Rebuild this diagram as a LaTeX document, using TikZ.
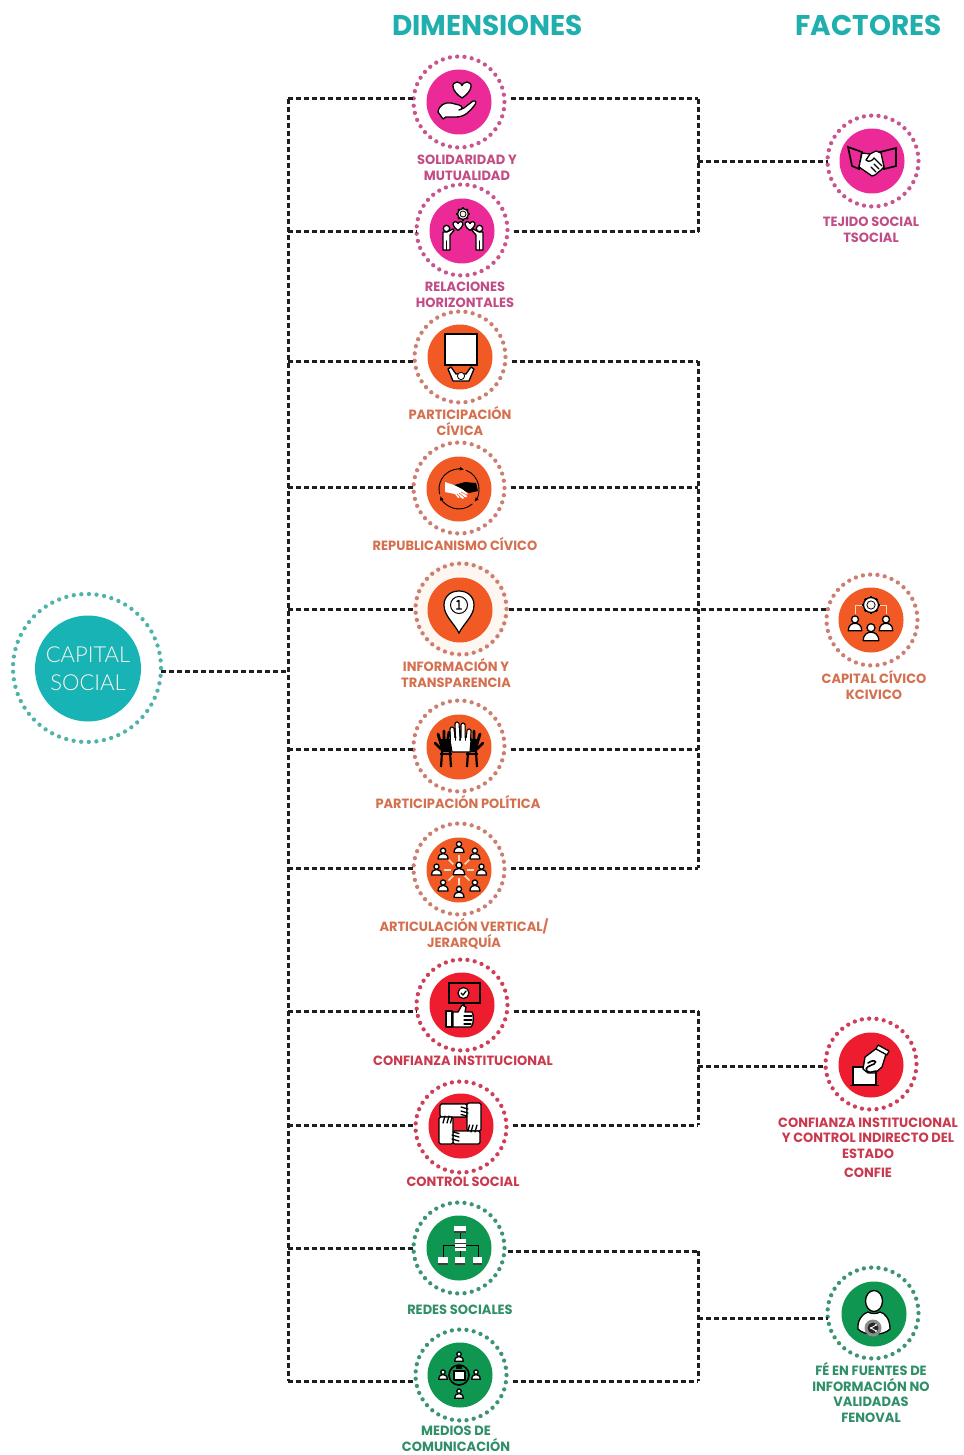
\documentclass[tikz,border=0pt]{standalone}
\usepackage{fontspec}
\usetikzlibrary{arrows.meta}
\setmainfont{Poppins}
\newfontfamily\labfont[FakeStretch=0.97]{Poppins}
\newfontfamily\headfont[FakeStretch=0.98]{Poppins}
\newfontfamily\capfont{Lato Light}
\definecolor{cPink}{HTML}{EC2A97}\definecolor{cOrange}{HTML}{F15A24}
\definecolor{cRed}{HTML}{ED1C2E}\definecolor{cGreen}{HTML}{0F9650}
\definecolor{cTeal}{HTML}{17B3B5}\definecolor{cHead}{HTML}{1FAFAE}
\definecolor{dPink}{HTML}{C9558F}\definecolor{dOrange}{HTML}{CC7F70}
\definecolor{dRed}{HTML}{CE3F5A}\definecolor{dGreen}{HTML}{3C9473}
\definecolor{dTeal}{HTML}{4FB3A9}
\definecolor{tPink}{HTML}{C24C85}\definecolor{tOrange}{HTML}{D4704F}
\definecolor{tRed}{HTML}{C93A4E}\definecolor{tGreen}{HTML}{2F8F66}
\definecolor{cLine}{HTML}{1E1E1E}\definecolor{cPeach}{HTML}{FBD9C0}
\tikzset{
 dotring/.style={circle,draw=#1,line width=4.3pt,line cap=round,
   dash pattern=on 0pt off 7.33pt,minimum size=91pt,inner sep=0pt,outer sep=0pt},
 disc/.style={circle,fill=#1,minimum size=65pt,inner sep=0pt,outer sep=0pt},
 link/.style={draw=cLine,line width=3pt,dash pattern=on 5.2pt off 2.8pt},
 lab/.style={text=#1,font=\labfont\bfseries\fontsize{13.4}{15.7}\selectfont,align=center,inner sep=0pt},
 head/.style={text=cHead,font=\headfont\bfseries\fontsize{28.5}{30}\selectfont,inner sep=0pt},
 ic/.style={draw=black,line width=1.3pt,line join=round,fill=white},
 il/.style={draw=black,line width=1.3pt,line join=round,line cap=round}
}
\newcommand{\personic}[3]{\begin{scope}[shift={({#1},{#2})},scale=#3]
 \path[ic] (-5,5) .. controls (-5,0.5) and (-2,-0.5) .. (0,-0.5) .. controls (2,-0.5) and (5,0.5) .. (5,5) -- cycle;
 \path[ic] (0,-3.4) circle (2.6);
\end{scope}}
\newcommand{\gearic}[3]{\begin{scope}[shift={(#1,#2)}]
 \foreach \a in {0,45,...,315}{\draw[black,line width=2.4pt] (\a:#3-1) -- (\a:#3+1.3);}
 \path[ic] (0,0) circle (#3);
 \path[draw=black,line width=.8pt,fill=cPeach!30] (0,0) circle (#3*.55);
\end{scope}}
\newcommand{\heartic}[3]{\begin{scope}[shift={(#1,#2)},scale=#3]
 \path[ic] (0,8) .. controls (-11,1) and (-11,-8) .. (-5,-8) .. controls (-2,-8) and (0,-5.5) .. (0,-4.5)
  .. controls (0,-5.5) and (2,-8) .. (5,-8) .. controls (11,-8) and (11,1) .. (0,8) -- cycle;
\end{scope}}
\begin{document}
\begin{tikzpicture}[x=1pt,y=-1pt]
\useasboundingbox (0,0) rectangle (963,1455);
% headings
\node[head] (hd) at (487.5,25) {DIMENSIONES};
\node[head] (hf) at (868.5,25) {FACTORES};
% coordinates for the busbars
\coordinate (t0) at (288,671);
\foreach \n/\yy in {1/99,2/232,3/361,4/487,5/609,6/749,7/868,8/1011,9/1125,10/1248,11/1381}{\coordinate (tl\n) at (288,\yy);}
\foreach \n/\yy in {1/99,2/232,3/361,4/487,5/609,6/749,7/868,8/1011,9/1125,10/1251,11/1381}{\coordinate (tr\n) at (698,\yy);}
\coordinate (f1) at (698,162); \coordinate (f3) at (698,1066); \coordinate (f4) at (698,1318);
% rings
\node[dotring=dTeal,minimum size=148pt,dash pattern=on 0pt off 7.62pt] (cs) at (87,668) {};
\node[disc=cTeal,minimum size=106pt,text=cPeach!25!white,align=center,font=\capfont\fontsize{22}{28}\selectfont] (csd) at (88,668.5) {CAPITAL\\SOCIAL};
\foreach \n/\x/\y/\c in {1/459/102/dPink,2/462/230/dPink,3/460/357/dOrange,4/459/488/dOrange,6/459/746/dOrange,7/459/869/dOrange,8/462/1005/dRed,9/461/1127/dRed,10/459/1248/dGreen,11/461/1375/dGreen}
 {\node[dotring=\c] (d\n) at (\x,\y) {};}
\node[circle,fill=cPeach!22,minimum size=96pt] (halo) at (461,609) {};
\node[dotring=dOrange] (d5) at (461,609) {};
\node[dotring=dPink] (ft) at (873,161) {};
\node[dotring=dOrange] (fk) at (872,620) {};
\node[dotring=dRed] (fc) at (871,1064) {};
\node[dotring=dGreen] (ff) at (873,1313) {};
% discs
\foreach \n/\x/\y/\c in {1/459/102/cPink,2/462/231/cPink,3/460/357/cOrange,4/459/489/cOrange,5/460/610/cOrange,6/459/747/cOrange,7/459/870/cOrange,8/462/1005/cRed,9/461/1126/cRed,10/459/1248/cGreen,11/460/1375/cGreen}
 {\node[disc=\c] (dd\n) at (\x,\y) {};}
\node[disc=cPink] (ftd) at (872,161) {};
\node[disc=cOrange] (fkd) at (871,620) {};
\node[disc=cRed] (fcd) at (871,1065) {};
\node[disc=cGreen] (ffd) at (874,1314) {};
% connectors
\draw[link] (cs.east |- t0) -- (t0);
\draw[link] (tl1) -- (tl11);
\foreach \n in {1,...,11}{\draw[link] (tl\n) -- (tl\n -| d\n.west);}
\foreach \n in {1,2,3,4,6,7,8,9,11}{\draw[link,shorten <=6pt] (d\n.east |- tr\n) -- (tr\n);}
\draw[link,shorten <=3pt] (d10.east |- tr10) -- (tr10);
\draw[link,shorten <=2pt] (d5.east |- tr5) -- (fk.west |- tr5);
\draw[link] (tr1) -- (tr2);
\draw[link] (tr3) -- (tr7);
\draw[link] (tr8) -- (tr9);
\draw[link] (tr10) -- (tr11);
\draw[link] (f1) -- (f1 -| ft.west);
\draw[link] (f3) -- (f3 -| fc.west);
\draw[link] (f4) -- (f4 -| ff.west);
% labels
\node[lab=tPink] (l1) at (467,168) {SOLIDARIDAD Y\\MUTUALIDAD};
\node[lab=tPink] (l2) at (465,295) {RELACIONES\\HORIZONTALES};
\node[lab=tOrange] (l3) at (460,421) {PARTICIPACIÓN\\CÍVICA};
\node[lab=tOrange] (l4) at (455,544.5) {REPUBLICANISMO CÍVICO};
\node[lab=tOrange] (l5) at (456,673) {INFORMACIÓN Y\\TRANSPARENCIA};
\node[lab=tOrange] (l6) at (458,802) {PARTICIPACIÓN POLÍTICA};
\node[lab=tOrange] (l7) at (464,934) {ARTICULACIÓN VERTICAL/\\JERARQUÍA};
\node[lab=tRed] (l8) at (463,1061) {CONFIANZA INSTITUCIONAL};
\node[lab=tRed] (l9) at (463,1182) {CONTROL SOCIAL};
\node[lab=tGreen] (l10) at (460,1310) {REDES SOCIALES};
\node[lab=tGreen] (l11) at (456,1438.5) {MEDIOS DE\\COMUNICACIÓN};
\node[lab=tPink] (lt) at (871,230) {TEJIDO SOCIAL\\TSOCIAL};
\node[lab=tOrange] (lk) at (874,685) {CAPITAL CÍVICO\\KCIVICO};
\node[lab=tRed] (lc) at (868,1138) {CONFIANZA INSTITUCIONAL\\Y CONTROL INDIRECTO DEL\\ESTADO};
\node[lab=tRed] (lc2) at (868,1173) {CONFIE};
\node[lab=tGreen] (lf) at (871,1392.5) {FÉ EN FUENTES DE\\INFORMACIÓN NO\\VALIDADAS\\FENOVAL};
% ---------- icons ----------
% 1 heart and hand
\begin{scope}[shift={(459,102)}]
 \heartic{3}{-12}{1}
 \path[ic] (-21,10) .. controls (-20,3) and (-14,0) .. (-8,1) -- (0,3) .. controls (4,4) and (4,8) .. (0,8) -- (5,6) -- (14,-1) .. controls (17,-2) and (18,1) .. (15,4) .. controls (11,9) and (6,15) .. (-3,15) -- (-13,15) -- (-16,17) -- cycle;
\end{scope}
% 2 gear, hearts, people
\begin{scope}[shift={(463,231)}]
 \gearic{0}{-17}{5.5}
 \heartic{-5}{-5}{.55}\heartic{7}{-5}{.55}
 \foreach \s in {-1,1}{
 \path[ic] (\s*16,1) -- (\s*10,-2) -- (\s*9,-.5) -- (\s*13,4) -- (\s*13,19) -- (\s*20,19) -- (\s*20,1) -- cycle;
 \path[ic] (\s*16.5,-2.5) circle (3.2);
 \draw[il] (\s*16.5,10) -- (\s*16.5,19);}
\end{scope}
% 3 board
\begin{scope}[shift={(460,357)}]
 \path[draw=black,line width=2.6pt,fill=white] (-15,-23) rectangle (17,8);
 \path[ic] (-12,12) -- (-7,24) -- (9,24) -- (14,12) -- (11,10) -- (6,17) -- (-4,17) -- (-9,10) -- cycle;
 \path[ic,line width=.8pt] (1,19) circle (3.6);
\end{scope}
% 4 handshake in arrows
\begin{scope}[shift={(459,489)}]
 \draw[black,line width=.9pt,-{Latex[length=4.5pt,width=4pt]}] (165:20) arc[start angle=165,end angle=285,radius=20];
 \draw[black,line width=.9pt,-{Latex[length=4.5pt,width=4pt]}] (290:20) arc[start angle=290,end angle=400,radius=20];
 \draw[black,line width=.9pt,-{Latex[length=4.5pt,width=4pt]}] (48:20) arc[start angle=48,end angle=160,radius=20];
 \fill[black] (-5,-4) -- (6,-7) -- (17,-6) -- (19,2) -- (10,4) -- (2,0) -- cycle;
 \fill[white] (-14,-7) -- (-5,-4) -- (3,0) -- (9,5) -- (7,5.5) -- (8,8) -- (5,8) -- (4,10) -- (1,8) -- (-1,9) -- (-4,5) -- (-14,3) -- cycle;
 \draw[cOrange,line width=.6pt] (2,3) -- (7,5.5) (0,4) -- (5,8) (-2,5) -- (1,8);
\end{scope}
% 5 pin
\begin{scope}[shift={(460,610)}]
 \path[draw=black,line width=1.2pt,fill=white] (-1,23) .. controls (-6,13) and (-16,6) .. (-16,-5) .. controls (-16,-14) and (-9,-19) .. (-1,-19) .. controls (7,-19) and (14,-14) .. (14,-5) .. controls (14,6) and (4,13) .. (-1,23) -- cycle;
 \path[draw=black,line width=1pt,fill=white] (-1,-5) circle (8.5);
 \draw[il,line width=1.4pt] (-3,-8.5) -- (-1,-9.5) -- (-1,-1.5) (-3.5,-1) -- (1.5,-1);
\end{scope}
% 6 hands
\begin{scope}[shift={(459,747)}]
 \foreach \s in {-1,1}{
  \fill[black] (\s*8,-8) -- (\s*20,-8) -- (\s*18,5) -- (\s*8,5) -- cycle;
  \draw[black,line width=2.8pt,line cap=round] (\s*10,-3) -- (\s*5,-10) (\s*12,-3) -- (\s*10,-15) (\s*15,-3) -- (\s*15,-16) (\s*18,-3) -- (\s*21,-13) (\s*18,2) -- (\s*24,-4);
  \draw[black,line width=2.2pt] (\s*9,5) -- (\s*8,20) (\s*17,5) -- (\s*18,20);
  \draw[black,line width=2pt] (\s*7,7) -- (\s*19,7);
 }
 \foreach \wd/\cl in {5.2/black,3/white}{\draw[line width=\wd pt,color=\cl,line cap=round] (-6,-6) -- (-7,-18) (-1,-6) -- (-2,-23) (4,-6) -- (4,-22) (9,-4) -- (10,-16);}
 \path[draw=black,line width=1.1pt,fill=white] (-9,-7) -- (12,-7) -- (11,5) -- (-7,5) -- cycle;
 \draw[white,line width=3.2pt] (-6,-9) -- (-6,-4) (-1.2,-9) -- (-1.2,-4) (4,-9) -- (4,-4) (9,-9) -- (9,-4);
\end{scope}
% 7 network
\begin{scope}[shift={(459,870)}]
 \foreach \a in {0,45,...,315}{\draw[cPeach,line width=1.7pt] (\a:8) -- (\a:15);
  \personic{22.5*cos(\a)}{22.5*sin(\a)}{1}}
 \personic{0}{-1}{1.15}
\end{scope}
% 8 sign and thumb
\begin{scope}[shift={(462,1005)}]
 \draw[black,line width=2pt] (-13,-22) rectangle (18,-2);
 \draw[black,line width=2pt] (2,-2) -- (2,4);
 \path[draw=black,line width=1.2pt,fill=white] (1.5,-12) circle (5.5);
 \draw[il] (-1,-12) -- (1,-10) -- (4,-14);
 \path[ic] (-16,6) rectangle (-10,22);
 \path[ic] (-9,7) -- (-4,7) -- (0,0) -- (4,2) -- (3,7) -- (10,7) .. controls (12,9) and (12,20) .. (9,22) -- (-9,22) -- cycle;
 \draw[il] (2,11) -- (10,11) (2,15) -- (10,15) (2,19) -- (9,19);
\end{scope}
% 9 four hands
\begin{scope}[shift={(460,1124)}]
 \path[ic,rounded corners=1.5pt] (-20,-20) -- (9,-20) -- (9,-7) -- (-7,-7) -- (-7,-20) -- cycle;
 \path[ic,rounded corners=1.5pt] (-20,-20) rectangle (7,-7);
 \path[ic,rounded corners=1.5pt] (7,-21) rectangle (21,7);
 \path[ic,rounded corners=1.5pt] (-7,7) rectangle (20,20);
 \path[ic,rounded corners=1.5pt] (-21,-7) rectangle (-7,20);
 \draw[il] (1,-17) -- (8,-15) (1,-13) -- (8,-11) (1,-9.5) -- (7,-8);
 \draw[il] (17,1) -- (15,8) (13,1) -- (11,8) (9.5,1) -- (8,7);
 \draw[il] (-1,17) -- (-8,15) (-1,13) -- (-8,11) (-1,9.5) -- (-7,8);
 \draw[il] (-17,-1) -- (-15,-8) (-13,-1) -- (-11,-8) (-9.5,-1) -- (-8,-7);
 \fill[cRed] (-6.3,-6.3) rectangle (6.3,6.3);
\end{scope}
% 10 org chart
\begin{scope}[shift={(459,1248)}]
 \draw[black,line width=.7pt] (1,-15) -- (1,-9) (-16,9) -- (-16,-3) -- (19,-3) -- (19,9) (1,3) -- (1,9);
 \foreach \xa/\ya/\xb/\yb in {-5/-22/7/-15,-21/9/-11/17,-4/9/6/17,14/9/23/17}{
  \path[fill=white] (\xa,\ya) rectangle (\xb,\yb);
  \fill[black!75] (\xa,\yb-2) rectangle (\xb,\yb);}
 \fill[white] (-4,-9) rectangle (7,3);
 \draw[black!80,line width=1pt] (-4,-5) -- (7,-5) (-4,-1) -- (7,-1);
\end{scope}
% 11 media
\begin{scope}[shift={(460,1375)}]
 \draw[black,line width=1.6pt] (-1,0) circle (10);
 \personic{-1}{-18}{.85}\personic{-1}{19}{.85}\personic{-17}{0}{.85}\personic{16}{0}{.85}
 \path[ic] (-6,-4) -- (5,-4) -- (5,5) -- (-6,5) -- cycle;
 \fill[black] (-4,-9) rectangle (2,-6);
\end{scope}
% factor: handshake
\begin{scope}[shift={(872,161)}]
 \path[draw=black,line width=1.7pt,fill=cPink] (-24,-14) -- (-10,-9) -- (-13,8) -- (-20,5) -- cycle;
 \path[draw=black,line width=1.7pt,fill=cPink] (24,-13) -- (8,-9) -- (12,8) -- (24,5) -- cycle;
 \path[ic] (-10,-8) -- (-2,-7) -- (4,-10) -- (9,-8) -- (12,6) -- (9,9) -- (3,14) -- (0,15) -- (-13,6) -- cycle;
 \draw[il] (-2,-7) -- (-6,-1) .. controls (-3,2) and (1,-1) .. (2,-3) -- (10,5) (7,8) -- (2,3) (4,11) -- (-1,6);
\end{scope}
% factor: gear and people
\begin{scope}[shift={(871,620)}]
 \draw[cPeach,line width=.6pt] (-16,-6) -- (-16,-15) -- (-8,-15) (8,-15) -- (15,-15) -- (15,-6);
 \gearic{0}{-15}{7.5}
 \personic{-16}{4}{1.35}\personic{15}{4}{1.35}\personic{0}{13}{1.55}
\end{scope}
% factor: ballot
\begin{scope}[shift={(871,1065)}]
 \path[ic] (-18,2) -- (5,2) -- (5,20) -- (-18,20) -- cycle;
 \draw[black,line width=1.8pt] (-21,20.5) -- (8,20.5);
 \path[ic] (-6,-8) -- (6,-17) -- (15,-11) -- (11,2) -- (4,8) -- (-3,8) -- (-8,4) -- cycle;
 \path[ic,fill=white] (7,-20) -- (18,-14) -- (16,-10) -- (5,-16) -- cycle;
 \draw[black,line width=1.6pt,line cap=round] (-3,-2) .. controls (2,-6) and (7,-4) .. (3,-1) .. controls (-1,1) and (-7,2) .. (-4,6) .. controls (-2,8) and (2,7) .. (5,6);
\end{scope}
% factor: person and share
\begin{scope}[shift={(874,1314)}]
 \path[ic] (-16,15) .. controls (-17,5) and (-10,-1) .. (-6,-2) .. controls (-3,0) and (3,0) .. (6,-2) .. controls (11,-1) and (16,5) .. (16,15) .. controls (10,22) and (-10,22) .. (-16,15) -- cycle;
 \path[ic] (0,-13) ellipse (8.5 and 10.5);
 \fill[black!45] (-1,14) circle (8.5);
 \fill[black!85] (-1,14) circle (5.5);
 \draw[white,line width=.9pt] (2,11) -- (-3,14) -- (2,17);
 \fill[white] (2,11) circle (1.2) (-3,14) circle (1.2) (2,17) circle (1.2);
\end{scope}
\end{tikzpicture}
\end{document}
